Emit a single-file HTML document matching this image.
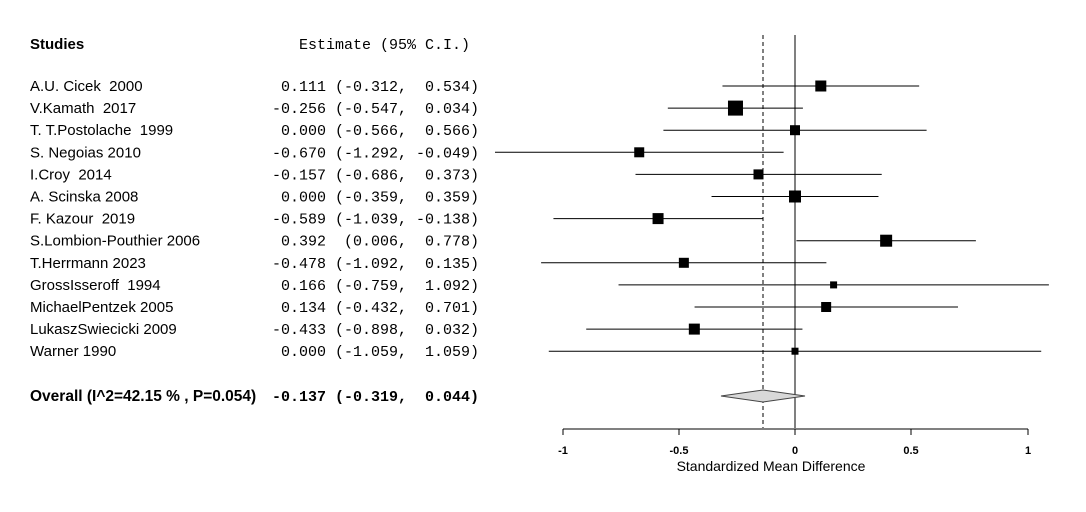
<!DOCTYPE html>
<html><head><meta charset="utf-8"><style>
body{margin:0;background:#fff}
svg text{fill:#000}
.n{font-family:"Liberation Sans",Arial,sans-serif;font-size:15px;white-space:pre}
.m{font-family:"Liberation Mono",monospace;font-size:15px;white-space:pre}
.t{font-family:"Liberation Sans",Arial,sans-serif;font-size:11px;font-weight:bold}
</style></head><body>
<svg width="1086" height="507" xmlns="http://www.w3.org/2000/svg">
<text class="n" x="30" y="49" font-weight="bold">Studies</text>
<text class="m" x="470" y="49" text-anchor="end" xml:space="preserve">Estimate (95% C.I.)</text>
<g id="rows"></g>
<line x1="795" y1="35" x2="795" y2="428" stroke="#000" stroke-width="1"/>
<line x1="763" y1="35" x2="763" y2="428" stroke="#000" stroke-width="1" stroke-dasharray="4,3"/>
<polygon points="721,396 763,390 805,396 763,402" fill="#d8d8d8" stroke="#444"/>
<line x1="563" y1="429" x2="1028" y2="429" stroke="#000"/>
<g stroke="#000"><line x1="563" y1="429" x2="563" y2="435"/><line x1="679" y1="429" x2="679" y2="435"/><line x1="795" y1="429" x2="795" y2="435"/><line x1="911" y1="429" x2="911" y2="435"/><line x1="1028" y1="429" x2="1028" y2="435"/></g>
<g class="t" text-anchor="middle"><text x="563" y="454">-1</text><text x="679" y="454">-0.5</text><text x="795" y="454">0</text><text x="911" y="454">0.5</text><text x="1028" y="454">1</text></g>
<text class="n" x="771" y="471" text-anchor="middle" style="font-size:14px">Standardized Mean Difference</text>
<text class="n" x="30" y="401" font-weight="bold" style="font-size:15.5px">Overall (I^2=42.15 % , P=0.054)</text>
<text class="m" x="479" y="401" text-anchor="end" font-weight="bold" xml:space="preserve">-0.137 (-0.319,  0.044)</text>
</svg>
<script>
var d=[["A.U. Cicek  2000","0.111 (-0.312,  0.534)",.111,-.312,.534,11],
["V.Kamath  2017","-0.256 (-0.547,  0.034)",-.256,-.547,.034,15],
["T. T.Postolache  1999","0.000 (-0.566,  0.566)",0,-.566,.566,10],
["S. Negoias 2010","-0.670 (-1.292, -0.049)",-.67,-1.292,-.049,10],
["I.Croy  2014","-0.157 (-0.686,  0.373)",-.157,-.686,.373,10],
["A. Scinska 2008","0.000 (-0.359,  0.359)",0,-.359,.359,12],
["F. Kazour  2019","-0.589 (-1.039, -0.138)",-.589,-1.039,-.138,11],
["S.Lombion-Pouthier 2006","0.392  (0.006,  0.778)",.392,.006,.778,12],
["T.Herrmann 2023","-0.478 (-1.092,  0.135)",-.478,-1.092,.135,10],
["GrossIsseroff  1994","0.166 (-0.759,  1.092)",.166,-.759,1.092,7],
["MichaelPentzek 2005","0.134 (-0.432,  0.701)",.134,-.432,.701,10],
["LukaszSwiecicki 2009","-0.433 (-0.898,  0.032)",-.433,-.898,.032,11],
["Warner 1990","0.000 (-1.059,  1.059)",0,-1.059,1.059,7]];
var g=document.getElementById('rows'),h='';
function X(v){return 795+v*232.5}
d.forEach(function(r,i){var y=86+i*22.1;
h+='<text class="n" x="30" y="'+(y+5)+'" xml:space="preserve">'+r[0]+'</text>';
h+='<text class="m" x="479" y="'+(y+5)+'" text-anchor="end" xml:space="preserve">'+r[1]+'</text>';
var a=Math.max(X(r[3]),495),b=Math.min(X(r[4]),1050);
h+='<line x1="'+a+'" y1="'+y+'" x2="'+b+'" y2="'+y+'" stroke="#000"/>';
var s=r[5];h+='<rect x="'+(X(r[2])-s/2)+'" y="'+(y-s/2)+'" width="'+s+'" height="'+s+'" fill="#000"/>';});
g.innerHTML=h;
</script>
</body></html>
